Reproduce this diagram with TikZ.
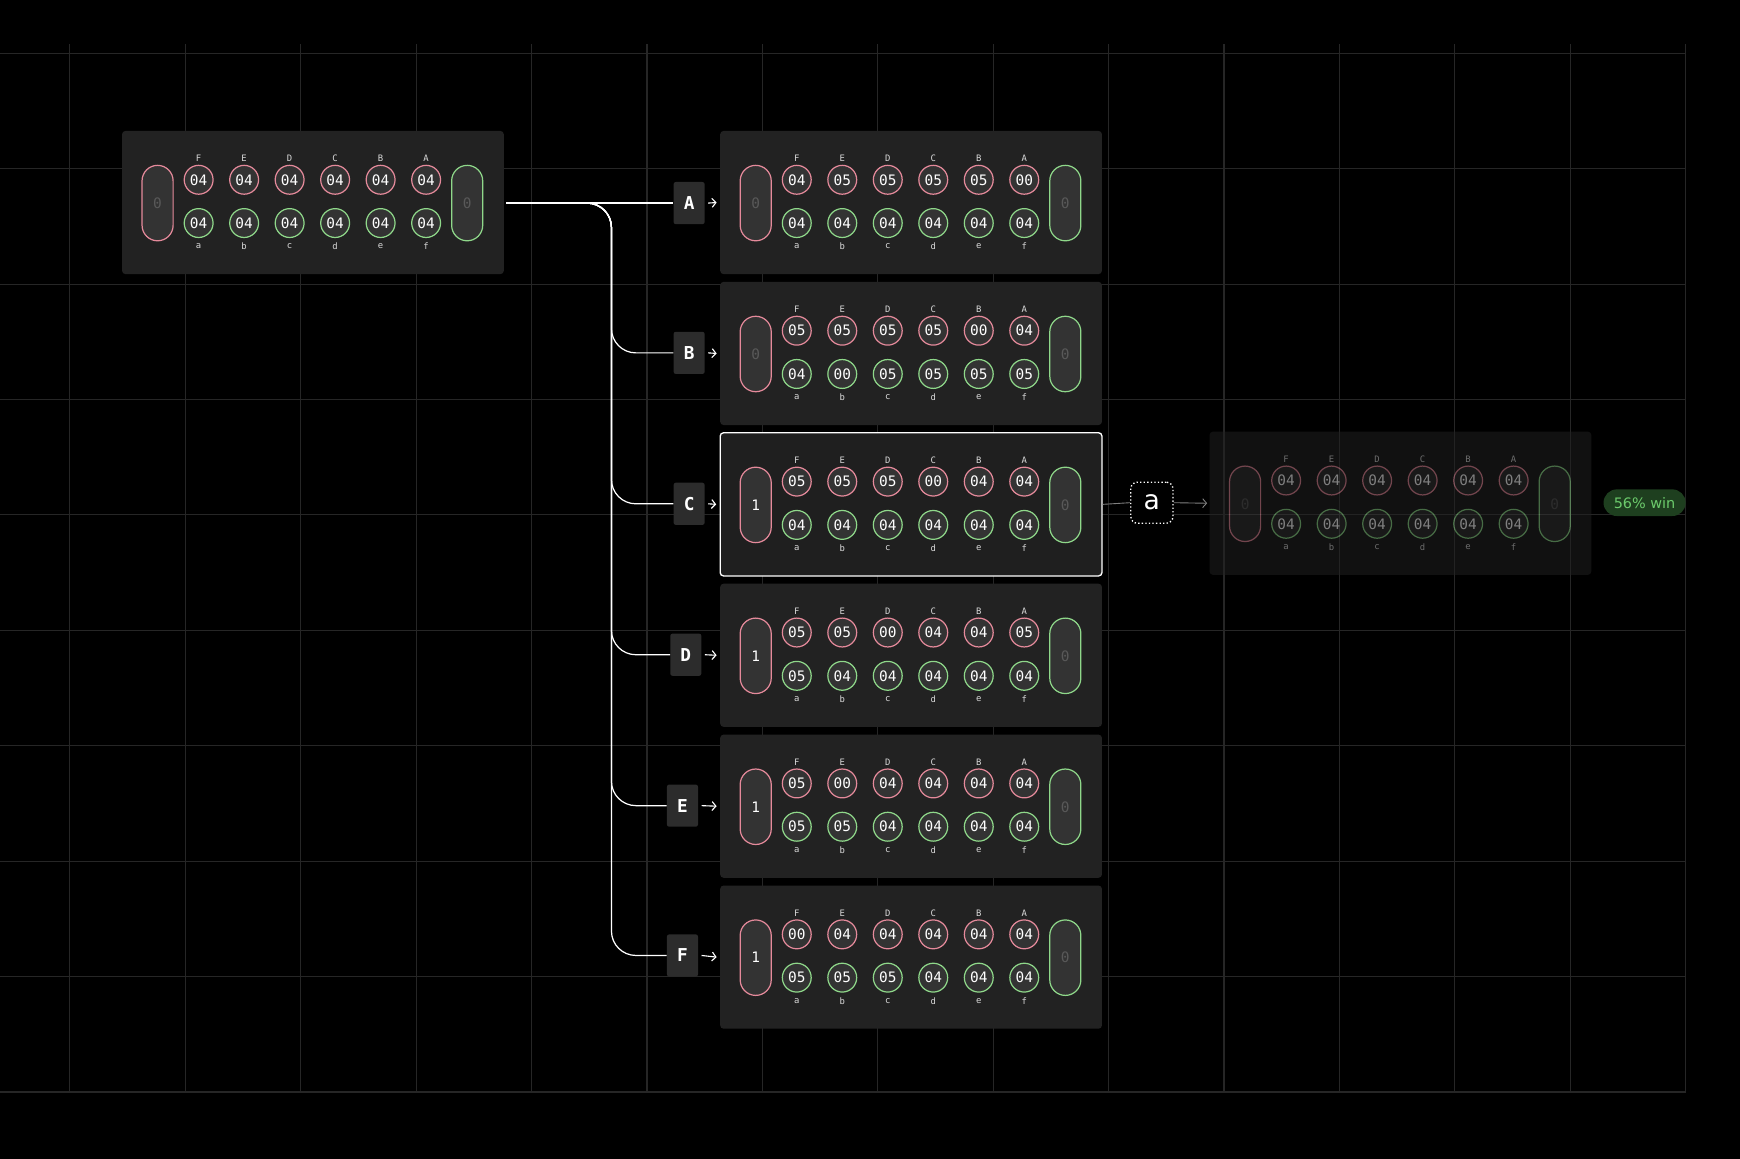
\documentclass[tikz,border=0pt]{standalone}
\usepackage{fontspec}
\usetikzlibrary{arrows.meta}
\setmainfont{DejaVu Sans}
\newfontfamily\monof{DejaVu Sans Mono}
\definecolor{pinkc}{HTML}{E58A9B}
\definecolor{greenc}{HTML}{8FD88A}
\definecolor{gridc}{HTML}{262626}
\definecolor{boardc}{HTML}{222222}
\definecolor{pitc}{HTML}{333333}
\definecolor{lblc}{HTML}{2C2C2C}
\definecolor{winbg}{HTML}{1E3F1F}
\definecolor{wintx}{HTML}{6CCB6C}
\newcommand\mkboard[7]{%
 \node[board,#7] (#1) at ({#2+172},{#3+64.5}) {};
 \foreach \v [count=\i] in {#4} {\node[pit,draw=pinkc] (#1t\i) at ({#2+28+41*\i},{#3+44}) {\v};}
 \foreach \v [count=\i] in {#5} {\node[pit,draw=greenc] (#1b\i) at ({#2+28+41*\i},{#3+83}) {\v};}
 \foreach \l [count=\i] in {F,E,D,C,B,A} {\node[lett] (#1u\i) at ({#2+28+41*\i},{#3+25}) {\l};}
 \foreach \l [count=\i] in {a,b,c,d,e,f} {\node[lett] (#1d\i) at ({#2+28+41*\i},{#3+104}) {\l};}
 \node[store,draw=pinkc] (#1L) at ({#2+32},{#3+65}) {#6};
 \node[store,draw=greenc,text=gray!70!black] (#1R) at ({#2+311},{#3+65}) {0};
}
\begin{document}
\begin{tikzpicture}[x=1pt,y=-1pt,
 board/.style={rectangle,rounded corners=3,fill=boardc,minimum width=344,minimum height=129,inner sep=0},
 pit/.style={circle,fill=pitc,line width=1.1,minimum size=26,inner sep=0,text=white,font=\monof\fontsize{13}{13}\selectfont},
 lett/.style={text=white!85!black,font=\monof\fontsize{8}{8}\selectfont,inner sep=0},
 store/.style={rectangle,rounded corners=14,fill=pitc,line width=1.1,minimum width=28,minimum height=68,inner sep=0,text=gray!70!black,font=\monof\fontsize{13}{13}\selectfont},
 lbl/.style={rectangle,rounded corners=2,fill=lblc,minimum width=28,minimum height=38,inner sep=0,text=white,font=\monof\bfseries\fontsize{16}{16}\selectfont},
 conn/.style={white,line width=1.1},
 arr/.style={white,line width=1,-{Straight Barb[length=3.5pt,width=8pt]}},
]
\fill[black] (0,0) rectangle (1568,1044);
\useasboundingbox (0,0) rectangle (1568,1044);
\foreach \x in {63,167,...,1519} \draw[gridc,line width=1] (\x,40) -- (\x,984);
\foreach \y in {48,152,...,984} \draw[gridc,line width=1] (0,\y) -- (1519,\y);

\mkboard{init}{110}{118}{04,04,04,04,04,04}{04,04,04,04,04,04}{0}{}
\mkboard{A}{649}{118}{04,05,05,05,05,00}{04,04,04,04,04,04}{0}{}
\mkboard{B}{649}{254}{05,05,05,05,00,04}{04,00,05,05,05,05}{0}{}
\mkboard{C}{649}{390}{05,05,05,00,04,04}{04,04,04,04,04,04}{\textcolor{white}{1}}{fill=pitc!110,draw=white,line width=1.2}
\mkboard{D}{649}{526}{05,05,00,04,04,05}{05,04,04,04,04,04}{\textcolor{white}{1}}{}
\mkboard{E}{649}{662}{05,00,04,04,04,04}{05,05,04,04,04,04}{\textcolor{white}{1}}{}
\mkboard{F}{649}{798}{00,04,04,04,04,04}{05,05,05,04,04,04}{\textcolor{white}{1}}{}
\begin{scope}[transparency group,opacity=0.5]
\mkboard{G}{1090}{389}{04,04,04,04,04,04}{04,04,04,04,04,04}{0}{}
\end{scope}

\node[lbl] (lA) at (621,183) {A};
\node[lbl] (lB) at (621,318) {B};
\node[lbl] (lC) at (621,454) {C};
\node[lbl] (lD) at (618,590) {D};
\node[lbl] (lE) at (615,726) {E};
\node[lbl] (lF) at (615,861) {F};
\coordinate (start) at (456,183);
\coordinate (trunk) at (551,183);
\draw[conn] (start) -- (lA.west);
\foreach \n in {B,C,D,E,F} \draw[conn,rounded corners=22] (start) -- (trunk) |- (l\n.west);
\foreach \n in {A,B,C,D,E,F} \draw[arr] ([xshift=3pt]l\n.east) -- ([xshift=-3pt]\n.west);

\node[rectangle,rounded corners=6,draw=white,dotted,line width=1.2,fill=black,minimum width=38,minimum height=37,inner sep=0,text=white,font=\fontsize{24}{24}\selectfont] (abox) at (1038,453) {a};
\draw[gray,line width=0.8] (C.east) -- (abox.west);
\draw[gray,line width=0.8,-{Straight Barb[length=3.5pt,width=8pt]}] (abox.east) -- ([xshift=-2pt]G.west);
\node[rectangle,rounded corners=12,fill=winbg,minimum width=74,minimum height=24,inner sep=0,text=wintx,font=\fontsize{13}{13}\selectfont] (win) at (1482,453) {56\% win};
\end{tikzpicture}
\end{document}
